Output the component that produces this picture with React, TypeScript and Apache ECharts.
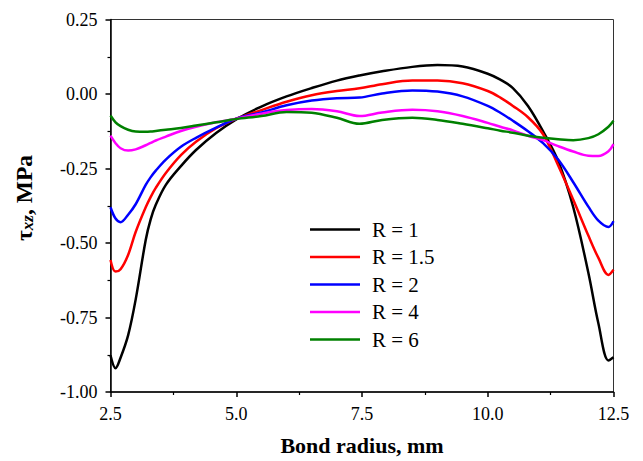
import React, { useEffect, useRef } from "react";
import * as echarts from "echarts";

const xValues = [2.5, 2.6, 2.7, 2.85, 3.0, 3.2, 3.3, 3.4, 3.6, 3.9, 4.2, 4.6, 5.0, 5.5, 6.0, 6.5, 7.0, 7.45, 7.9, 8.5, 9.0, 9.5, 10.0, 10.25, 10.5, 10.8, 11.1, 11.4, 11.7, 12.0, 12.2, 12.4, 12.5];

const seriesNames = ["R = 1", "R = 1.5", "R = 2", "R = 4", "R = 6"];

const r1 = [-0.877, -0.92, -0.885, -0.81, -0.69, -0.49, -0.42, -0.372, -0.305, -0.242, -0.188, -0.131, -0.085, -0.042, -0.008, 0.02, 0.045, 0.062, 0.076, 0.091, 0.097, 0.092, 0.068, 0.048, 0.02, -0.04, -0.125, -0.225, -0.38, -0.6, -0.77, -0.894, -0.883];
const r15 = [-0.557, -0.596, -0.588, -0.54, -0.463, -0.38, -0.345, -0.315, -0.265, -0.205, -0.16, -0.115, -0.083, -0.054, -0.026, -0.004, 0.01, 0.019, 0.033, 0.045, 0.045, 0.036, 0.01, -0.012, -0.04, -0.078, -0.135, -0.24, -0.355, -0.475, -0.55, -0.607, -0.59];
const r2 = [-0.38, -0.418, -0.43, -0.405, -0.37, -0.305, -0.279, -0.257, -0.22, -0.177, -0.147, -0.113, -0.083, -0.062, -0.038, -0.022, -0.014, -0.012, 0.002, 0.012, 0.008, -0.008, -0.04, -0.063, -0.09, -0.125, -0.165, -0.22, -0.296, -0.378, -0.425, -0.446, -0.427];
const r4 = [-0.14, -0.165, -0.182, -0.19, -0.186, -0.172, -0.164, -0.156, -0.143, -0.124, -0.11, -0.095, -0.083, -0.066, -0.054, -0.05, -0.058, -0.074, -0.062, -0.053, -0.058, -0.074, -0.097, -0.11, -0.122, -0.14, -0.155, -0.175, -0.193, -0.207, -0.208, -0.192, -0.168];
const r6 = [-0.072, -0.095, -0.108, -0.12, -0.126, -0.127, -0.126, -0.124, -0.12, -0.114, -0.106, -0.095, -0.084, -0.074, -0.06, -0.063, -0.08, -0.1, -0.087, -0.08, -0.087, -0.1, -0.115, -0.123, -0.13, -0.14, -0.147, -0.152, -0.155, -0.148, -0.135, -0.11, -0.09];

const seriesValues = [r1, r15, r2, r4, r6];
const colors = ["#000000", "#ff0000", "#0000ff", "#ff00ff", "#008000"];

const FONT = "Liberation Serif";

export default function App() {
  const ref = useRef<HTMLDivElement>(null);
  useEffect(() => {
    if (!ref.current) return;
    const chart = echarts.init(ref.current, null, { renderer: "svg" });
    chart.setOption({
      animation: false,
      backgroundColor: "#ffffff",
      textStyle: { fontFamily: FONT },
      grid: {
        left: 110.5,
        right: 29.5,
        top: 19.5,
        bottom: 66.5,
        show: true,
        borderColor: "#333",
        borderWidth: 1,
      },
      legend: {
        orient: "vertical",
        left: 310,
        top: 219,
        padding: 0,
        itemWidth: 50,
        itemHeight: 14,
        itemGap: 6.5,
        data: seriesNames.map((n, i) => ({ name: n, icon: "path://M0,0 L50,0 L50,2.5 L0,2.5 Z", itemStyle: { color: colors[i] } })),
        textStyle: { fontFamily: FONT, fontSize: 21, color: "#000", padding: [0, 0, 0, 7] },
      },
      xAxis: {
        type: "value",
        min: 2.5,
        max: 12.5,
        interval: 2.5,
        name: "Bond radius, mm",
        nameLocation: "middle",
        nameGap: 42,
        nameTextStyle: { fontFamily: FONT, fontSize: 22, fontWeight: "bold", color: "#000" },
        axisLine: { show: true, onZero: false, lineStyle: { color: "#000", width: 1.5 } },
        axisTick: { show: true, inside: false, length: 5, lineStyle: { color: "#000", width: 1.5 } },
        minorTick: { show: true, splitNumber: 2, length: 3, lineStyle: { color: "#000", width: 1.2 } },
        splitLine: { show: false },
        axisLabel: { fontFamily: FONT, fontSize: 18, color: "#000", margin: 13, formatter: (v: number) => v.toFixed(1) },
      },
      yAxis: {
        type: "value",
        min: -1,
        max: 0.25,
        interval: 0.25,
        axisLine: { show: true, onZero: false, lineStyle: { color: "#000", width: 1.5 } },
        axisTick: { show: true, inside: false, length: 5, lineStyle: { color: "#000", width: 1.5 } },
        minorTick: { show: true, splitNumber: 2, length: 3, lineStyle: { color: "#000", width: 1.2 } },
        splitLine: { show: false },
        axisLabel: { fontFamily: FONT, fontSize: 18, color: "#000", margin: 13, formatter: (v: number) => v.toFixed(2) },
      },
      graphic: [
        {
          type: "text",
          x: 24,
          y: 198,
          rotation: Math.PI / 2,
          style: {
            text: "{t|τ}{s|xz}{t|, MPa}",
            align: "center",
            verticalAlign: "middle",
            fill: "#000",
            rich: {
              t: { fontFamily: FONT, fontSize: 23.5, fontWeight: "bold", lineHeight: 23, fill: "#000" },
              s: { fontFamily: FONT, fontSize: 17, fontWeight: "bold", fontStyle: "italic", lineHeight: 11, verticalAlign: "bottom", fill: "#000" },
            },
          },
        },
      ],
      series: seriesNames.map((name, i) => ({
        name,
        type: "line",
        data: xValues.map((x, j) => [x, seriesValues[i][j]]),
        showSymbol: false,
        symbol: "none",
        smooth: 0.35,
        lineStyle: { color: colors[i], width: 2.5 },
        itemStyle: { color: colors[i] },
      })),
    });
    return () => chart.dispose();
  }, []);
  return <div ref={ref} style={{ position: "absolute", left: 0, top: 0, width: 643, height: 461 }} />;
}
